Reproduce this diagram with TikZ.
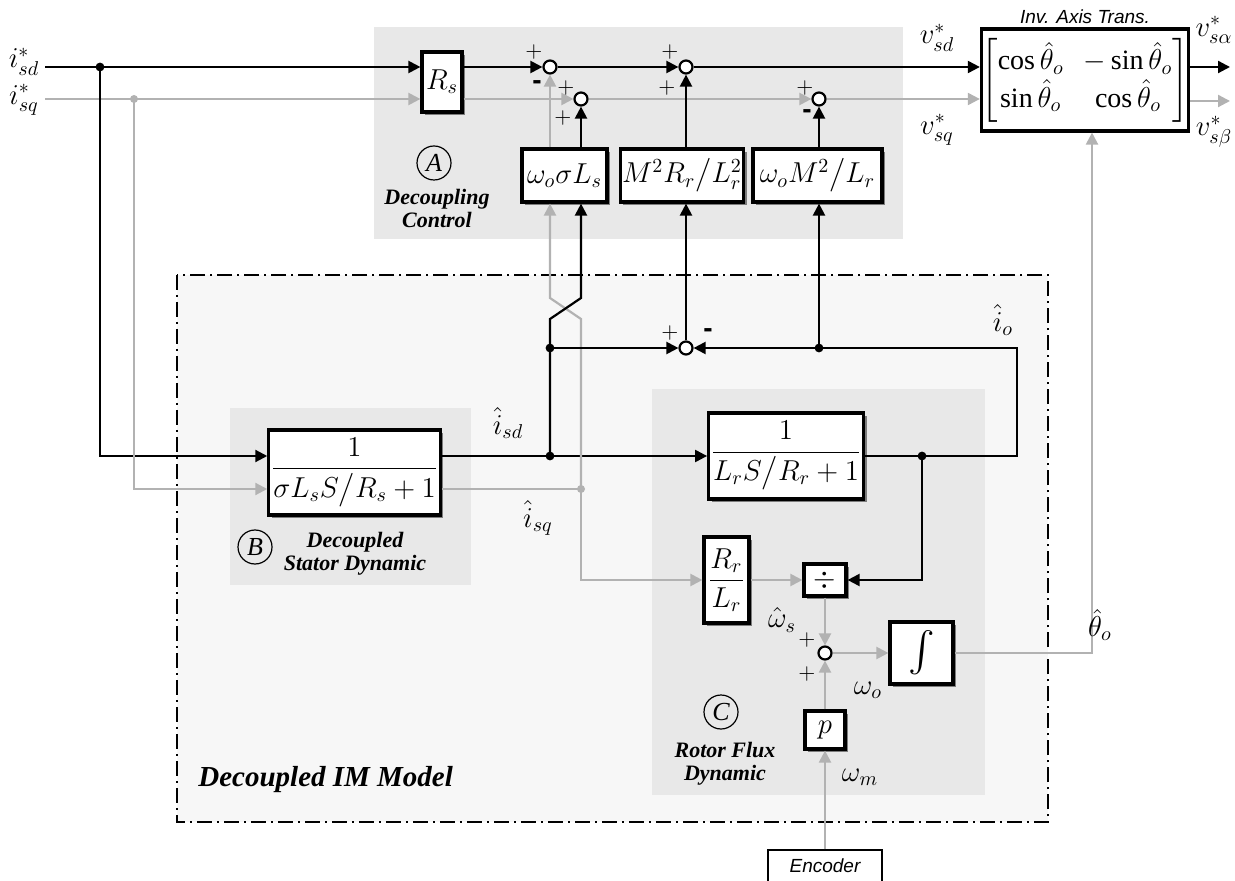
\documentclass[tikz,border=0pt]{standalone}
\usepackage{amsmath,amssymb}
\usepackage{fontspec}
\setmainfont{Liberation Serif}
\newfontfamily\helv{Liberation Sans}
\usepackage{tikz}
\usetikzlibrary{arrows.meta, positioning, shadows}

\definecolor{sigGray}{RGB}{178,178,178}
\definecolor{grpGray}{RGB}{232,232,232}
\definecolor{modGray}{RGB}{247,247,247}
\definecolor{shdGray}{RGB}{125,125,125}

\tikzset{
    blk/.style={draw, line width=1.6pt, fill=white, inner sep=1pt,
        font=\fontsize{14}{17}\selectfont,
        drop shadow={shadow xshift=1.6pt, shadow yshift=-1.6pt, fill=shdGray, opacity=1}},
    sumj/.style={draw, circle, line width=1.1pt, fill=white, minimum size=6.5pt, inner sep=0pt},
    sig/.style={line width=1.1pt, -{Triangle[length=6pt, width=6pt]}},
    gsig/.style={sig, draw=sigGray},
    wire/.style={line width=1.1pt},
    gwire/.style={wire, draw=sigGray},
    lbl/.style={font=\fontsize{14}{17}\selectfont, inner sep=0pt},
    sgn/.style={font=\fontsize{11}{12}\selectfont, inner sep=0pt},
    neg/.style={font=\helv\bfseries\fontsize{14}{14}\selectfont, inner sep=0pt},
    tag/.style={draw, circle, line width=0.6pt, minimum size=17pt, inner sep=0pt,
        font=\itshape\fontsize{13}{13}\selectfont},
    grpname/.style={font=\bfseries\itshape\fontsize{11}{11.5}\selectfont, align=center, inner sep=0pt},
    sanslbl/.style={font=\helv\itshape\fontsize{9.5}{10}\selectfont, inner sep=0pt}
}

\begin{document}
\begin{tikzpicture}[x=0.5pt, y=-0.5pt]
    \useasboundingbox (0,0) rectangle (1235,881);

    % Group backgrounds
    \fill[grpGray] (374,27) rectangle (903,239);
    \filldraw[fill=modGray, line width=1pt, dash pattern=on 7.5pt off 2.5pt on 1pt off 2.5pt]
        (177,275) rectangle (1048,822);
    \fill[grpGray] (230,408) rectangle (471,585);
    \fill[grpGray] (652,389) rectangle (985,795);

    % Summing junctions
    \node[sumj] (s1) at (550,67) {};
    \node[sumj] (s2) at (581,99) {};
    \node[sumj] (s3) at (686,67) {};
    \node[sumj] (s4) at (819,99) {};
    \node[sumj] (s5) at (686,348) {};
    \node[sumj] (s6) at (825,653) {};

    % Blocks
    \node[blk, minimum width=20pt, minimum height=30pt] (rs) at (442,82) {$R_s$};
    \node[blk, minimum width=42.5pt, minimum height=26.5pt] (wsl) at (564.5,175.5) {$\omega_o\sigma L_s$};
    \node[blk, minimum width=60pt, minimum height=26.5pt] (mrl) at (682,175.5) {$M^2R_r\big/L_r^2$};
    \node[blk, minimum width=64.5pt, minimum height=26.5pt] (wml) at (817.5,175.5) {$\omega_o M^2\big/L_r$};
    \node[draw, line width=1.6pt, fill=white, minimum width=101pt, minimum height=51pt, inner sep=0pt,
        font=\fontsize{14}{17}\selectfont] (inv) at (1085,80)
        {$\begin{bmatrix}\cos\hat{\theta}_o & -\sin\hat{\theta}_o\\ \sin\hat{\theta}_o & \cos\hat{\theta}_o\end{bmatrix}$};
    \node[blk, minimum width=78.5pt, minimum height=42.5pt] (tfb) at (354.5,472.5) {$\dfrac{1}{\sigma L_s S\big/R_s+1}$};
    \node[blk, minimum width=69pt, minimum height=43pt] (tfc) at (786,456) {$\dfrac{1}{L_r S\big/R_r+1}$};
    \node[blk, minimum width=22.5pt, minimum height=43pt] (rl) at (726.5,580) {$\dfrac{R_r}{L_r}$};
    \node[blk, minimum width=21pt, minimum height=16pt] (div) at (825,580) {$\div$};
    \node[blk, minimum width=31.5pt, minimum height=31pt] (intg) at (921.5,653) {\fontsize{20}{20}\selectfont$\int$};
    \node[blk, minimum width=20pt, minimum height=19pt] (pg) at (825,730) {$p$};
    \node[draw, line width=0.6pt, fill=white, minimum width=57pt, minimum height=16pt, sanslbl,
        inner sep=2pt] (enc) at (825,866) {Encoder};

    % Corners and branch points
    \coordinate (isd) at (45,67);
    \coordinate (isq) at (45,99);
    \coordinate (jd) at (100,67);
    \coordinate (jq) at (134,99);
    \coordinate (bd) at (100,456);
    \coordinate (bq) at (134,489);
    \coordinate (vsa) at (1230,67);
    \coordinate (vsb) at (1230,101);
    \coordinate (jisd) at (550,456);
    \coordinate (jisq) at (581,489);
    \coordinate (jid2) at (550,348);
    \coordinate (jio) at (819,348);
    \coordinate (jfl) at (922,456);
    \coordinate (cio) at (1017,456);
    \coordinate (ciotop) at (1017,348);
    \coordinate (gx1) at (581,319);
    \coordinate (gx2) at (550,298);
    \coordinate (bx1) at (550,319);
    \coordinate (bx2) at (581,298);
    \coordinate (cth) at (1092,653);

    % Reference currents
    \draw[sig] (isd) -- (rs.west |- isd);
    \draw[gsig] (isq) -- (rs.west |- isq);
    \draw[sig] (jd) -- (bd) -- (tfb.west |- bd);
    \draw[gsig] (jq) -- (bq) -- (tfb.west |- bq);

    % Decoupling control
    \draw[sig] (rs.east |- s1) -- (s1);
    \draw[gsig] (rs.east |- s2) -- (s2);
    \draw[sig] (s1) -- (s3);
    \draw[gsig] (s2) -- (s4);
    \draw[sig] (s3) -- (inv.west |- s3);
    \draw[gsig] (s4) -- (inv.west |- s4);
    \draw[sig] (inv.east |- vsa) -- (vsa);
    \draw[gsig] (inv.east |- vsb) -- (vsb);
    \draw[gsig] (wsl.north -| s1) -- (s1);
    \draw[sig] (wsl.north -| s2) -- (s2);
    \draw[sig] (mrl.north -| s3) -- (s3);
    \draw[sig] (wml.north -| s4) -- (s4);

    % Stator and rotor model
    \draw[sig] (tfb.east |- bd) -- (tfc.west |- bd);
    \draw[gwire] (tfb.east |- bq) -- (jisq);
    \draw[gsig] (jisq) -- (jisq |- rl) -- (rl);
    \draw[gsig] (jisq) -- (gx1) -- (gx2) -- (wsl.south -| gx2);
    \draw[sig] (jisd) -- (bx1) -- (bx2) -- (wsl.south -| bx2);
    \draw[sig] (jid2) -- (s5);
    \draw[sig] (s5) -- (mrl.south -| s5);
    \draw[sig] (tfc.east) -- (cio) -- (ciotop) -- (s5);
    \draw[sig] (jio) -- (wml.south -| jio);
    \draw[sig] (jfl) -- (jfl |- div) -- (div);
    \draw[gsig] (rl) -- (div);
    \draw[gsig] (div) -- (s6);
    \draw[gsig] (pg) -- (s6);
    \draw[gsig] (enc) -- (pg);
    \draw[gsig] (s6) -- (intg);
    \draw[gsig] (intg) -- (cth) -- (cth |- inv.south);

    % Branch dots
    \fill (jd) circle (2.2pt);
    \fill[sigGray] (jq) circle (2pt);
    \fill (jisd) circle (2.2pt);
    \fill[sigGray] (jisq) circle (2pt);
    \fill (jid2) circle (2.2pt);
    \fill (jio) circle (2.2pt);
    \fill (jfl) circle (2.2pt);

    % Signal labels
    \node[lbl] (lisd) at (24,62) {$i^{*}_{sd}$};
    \node[lbl] (lisq) at (24,100) {$i^{*}_{sq}$};
    \node[lbl] (lvsd) at (937,38) {$v^{*}_{sd}$};
    \node[lbl] (lvsq) at (937,130) {$v^{*}_{sq}$};
    \node[lbl] (lvsa) at (1214,30) {$v^{*}_{s\alpha}$};
    \node[lbl] (lvsb) at (1214,132) {$v^{*}_{s\beta}$};
    \node[lbl] (lhisd) at (508,423) {$\hat{i}_{sd}$};
    \node[lbl] (lhisq) at (538,518) {$\hat{i}_{sq}$};
    \node[lbl] (lhio) at (1003,320) {$\hat{i}_{o}$};
    \node[lbl] (lws) at (782,620) {$\hat{\omega}_{s}$};
    \node[lbl] (lwo) at (868,690) {$\omega_{o}$};
    \node[lbl] (lwm) at (860,777) {$\omega_{m}$};
    \node[lbl] (lth) at (1100,625) {$\hat{\theta}_{o}$};

    % Signs at the junctions
    \node[sgn] (sg1a) at (534,52) {$+$};
    \node[neg] (sg1b) at (537,85) {-};
    \node[sgn] (sg2a) at (566,88) {$+$};
    \node[sgn] (sg2b) at (563,118) {$+$};
    \node[sgn] (sg3a) at (670,52) {$+$};
    \node[sgn] (sg3b) at (667,88) {$+$};
    \node[sgn] (sg4a) at (805,88) {$+$};
    \node[neg] (sg4b) at (807,114) {-};
    \node[sgn] (sg5a) at (670,333) {$+$};
    \node[neg] (sg5b) at (708,333) {-};
    \node[sgn] (sg6a) at (807,640) {$+$};
    \node[sgn] (sg6b) at (807,674) {$+$};

    % Group names
    \node[tag] (tga) at (434,163) {A};
    \node[tag] (tgb) at (255,547) {B};
    \node[tag] (tgc) at (721,712) {C};
    \node[grpname] (nma) at (437,208) {Decoupling\\Control};
    \node[grpname] (nmb) at (355,554) {Decoupled\\Stator Dynamic};
    \node[grpname] (nmc) at (725,764) {Rotor Flux\\Dynamic};
    \node[font=\bfseries\itshape\fontsize{14.5}{16}\selectfont, anchor=west, inner sep=0pt] (nmim) at (198,780) {Decoupled IM Model};
    \node[sanslbl] (ninv) at (1085,17) {Inv. Axis Trans.};
\end{tikzpicture}
\end{document}
